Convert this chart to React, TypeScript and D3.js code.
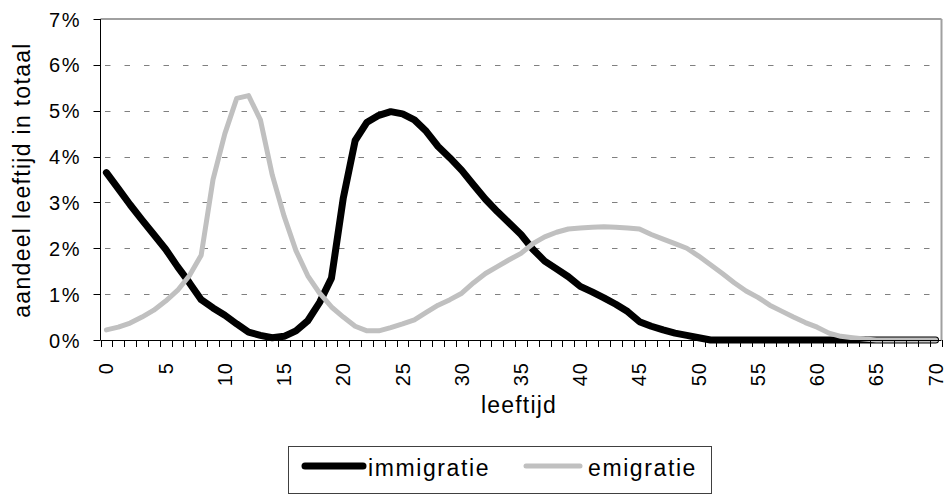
import React from "react";
import * as d3 from "d3";

const ages: number[] = d3.range(0, 71);
const immigratie: number[] = [
  3.65, 3.3, 2.95, 2.62, 2.3, 1.98, 1.6, 1.25, 0.88, 0.7,
  0.54, 0.35, 0.17, 0.1, 0.05, 0.08, 0.2, 0.42, 0.82, 1.35,
  3.1, 4.35, 4.75, 4.9, 4.98, 4.93, 4.8, 4.55, 4.22, 3.97,
  3.7, 3.38, 3.07, 2.8, 2.55, 2.3, 1.98, 1.72, 1.55, 1.38,
  1.17, 1.05, 0.92, 0.78, 0.62, 0.4, 0.3, 0.22, 0.15, 0.1,
  0.05, 0, 0, 0, 0, 0, 0, 0, 0, 0,
  0, 0, 0, 0, 0, 0, 0, 0, 0, 0, 0,
];
const emigratie: number[] = [
  0.22, 0.28, 0.37, 0.5, 0.65, 0.85, 1.08, 1.4, 1.85, 3.5,
  4.5, 5.27, 5.33, 4.8, 3.6, 2.7, 1.95, 1.4, 1.02, 0.72,
  0.5, 0.3, 0.2, 0.2, 0.27, 0.35, 0.44, 0.6, 0.76, 0.88,
  1.02, 1.25, 1.45, 1.6, 1.75, 1.89, 2.1, 2.25, 2.35, 2.42,
  2.44, 2.46, 2.47, 2.46, 2.44, 2.42, 2.3, 2.2, 2.1, 2.0,
  1.83, 1.64, 1.45, 1.25, 1.07, 0.93, 0.76, 0.63, 0.5, 0.38,
  0.28, 0.15, 0.08, 0.05, 0.02, 0, 0, 0, 0, 0, 0,
];
const yTicks: number[] = [0, 1, 2, 3, 4, 5, 6, 7];
const xLabels: number[] = [0, 5, 10, 15, 20, 25, 30, 35, 40, 45, 50, 55, 60, 65, 70];
const seriesNames: string[] = ["immigratie", "emigratie"];

const W = 948;
const H = 495;
const L = 100.5;
const R = 941.5;
const T = 19;
const B = 340;
const FONT = "'Liberation Sans', Arial, sans-serif";

export default function App() {
  const x = d3.scaleLinear().domain([-0.5, 70.5]).range([L, R]);
  const y = d3.scaleLinear().domain([0, 7]).range([B, T]);
  const line = d3
    .line<number>()
    .x((_, i) => x(ages[i]))
    .y((d) => y(d));
  const catBounds = d3.range(0, 72).map((k) => k - 0.5);

  return (
    <svg
      width={W}
      height={H}
      style={{ position: "absolute", left: 0, top: 0, background: "#fff" }}
      fontFamily={FONT}
    >
      <rect x={0} y={0} width={W} height={H} fill="#fff" />
      {/* gridlines */}
      {yTicks
        .filter((t) => t > 0 && t < 7)
        .map((t) => (
          <line
            key={"g" + t}
            x1={105}
            x2={R - 2}
            y1={Math.round(y(t)) + 0.5}
            y2={Math.round(y(t)) + 0.5}
            stroke="#808080"
            strokeWidth={1}
            strokeDasharray="5.5,14"
          />
        ))}
      {/* top and right border */}
      <line x1={L} x2={R} y1={T} y2={T} stroke="#a0a0a0" strokeWidth={2} />
      <line x1={R} x2={R} y1={T} y2={B} stroke="#a0a0a0" strokeWidth={2} />
      {/* series */}
      <path
        d={line(immigratie) || ""}
        fill="none"
        stroke="#000"
        strokeWidth={7}
        strokeLinejoin="round"
        strokeLinecap="round"
      />
      <path
        d={line(emigratie) || ""}
        fill="none"
        stroke="#c0c0c0"
        strokeWidth={5}
        strokeLinejoin="round"
        strokeLinecap="round"
      />
      {/* axes */}
      <line x1={L} x2={L} y1={T} y2={B} stroke="#000" strokeWidth={1} />
      <line x1={L} x2={R} y1={B + 0.5} y2={B + 0.5} stroke="#000" strokeWidth={1} />
      {yTicks.map((t) => (
        <g key={"yt" + t}>
          <line
            x1={L - 7}
            x2={L}
            y1={Math.round(y(t)) + 0.5}
            y2={Math.round(y(t)) + 0.5}
            stroke="#000"
            strokeWidth={1}
          />
          <text
            x={81}
            y={y(t) + 7.5}
            textAnchor="end"
            fontSize={20}
            letterSpacing={1.5}
            fill="#000"
          >
            {t + "%"}
          </text>
        </g>
      ))}
      {catBounds.map((c) => (
        <line
          key={"xt" + c}
          x1={Math.round(x(c)) + 0.5}
          x2={Math.round(x(c)) + 0.5}
          y1={B}
          y2={B + 7}
          stroke="#000"
          strokeWidth={1}
        />
      ))}
      {xLabels.map((a) => (
        <text
          key={"xl" + a}
          transform={`translate(${x(a) + 7},362) rotate(-90)`}
          textAnchor="end"
          fontSize={20}
          letterSpacing={1}
          fill="#000"
        >
          {String(a)}
        </text>
      ))}
      {/* axis titles */}
      <text
        transform={`translate(30,180) rotate(-90)`}
        textAnchor="middle"
        fontSize={23}
        letterSpacing={1.3}
        fill="#000"
      >
        aandeel leeftijd in totaal
      </text>
      <text x={519} y={413} textAnchor="middle" fontSize={23} letterSpacing={1.2} fill="#000">
        leeftijd
      </text>
      {/* legend */}
      <rect x={288.5} y={446.5} width={423} height={47} fill="#fff" stroke="#404040" strokeWidth={1} />
      <line x1={305} x2={363} y1={466} y2={466} stroke="#000" strokeWidth={7} strokeLinecap="round" />
      <text x={368} y={476} fontSize={23} letterSpacing={1.6} fill="#000">
        {seriesNames[0]}
      </text>
      <line x1={526} x2={580} y1={466} y2={466} stroke="#c0c0c0" strokeWidth={5} strokeLinecap="round" />
      <text x={588} y={476} fontSize={23} letterSpacing={1.6} fill="#000">
        {seriesNames[1]}
      </text>
    </svg>
  );
}
